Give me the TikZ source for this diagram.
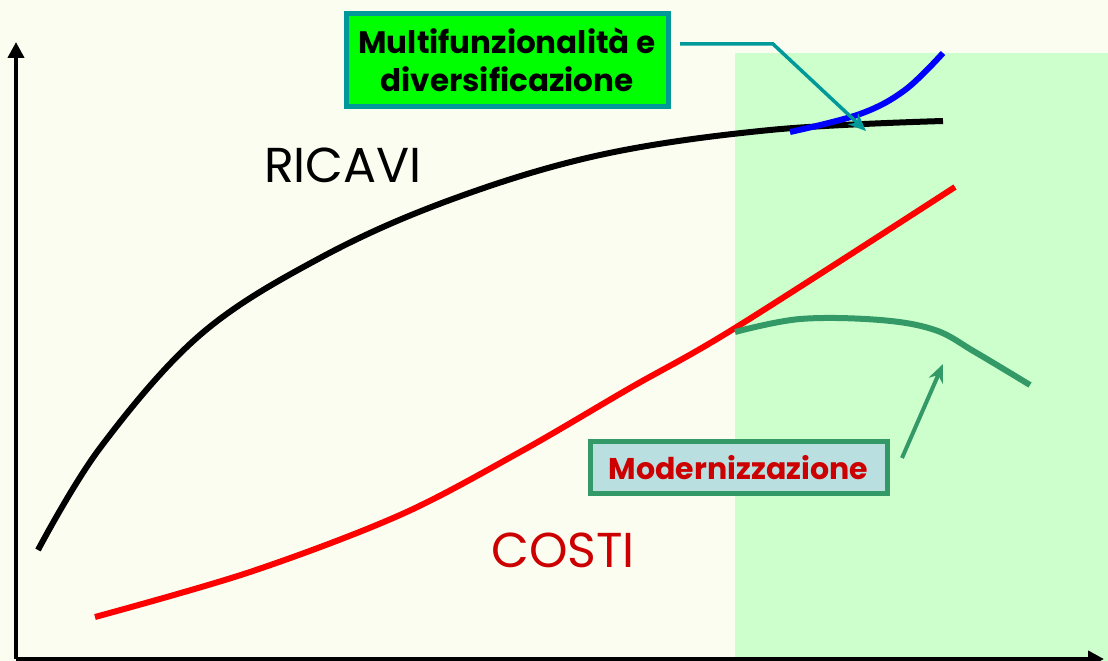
\documentclass[tikz,border=0pt]{standalone}
\usepackage{fontspec}
\setmainfont{Poppins}
\usetikzlibrary{arrows.meta}
\definecolor{bgivory}{RGB}{250,253,240}
\definecolor{bggreen}{RGB}{204,255,204}
\definecolor{tealc}{RGB}{0,153,153}
\definecolor{seagreen}{RGB}{51,153,102}
\definecolor{darkred}{RGB}{204,0,0}
\definecolor{boxblue}{RGB}{185,223,225}
\definecolor{lime}{RGB}{0,255,0}
\tikzset{
  curve/.style={line width=6pt, line cap=butt},
  axis/.style={line width=4.5pt, -{Triangle[length=16pt,width=16pt]}},
  labelbox/.style={line width=5pt, inner sep=0pt, align=center},
  bigtext/.style={font=\fontsize{49}{52}\selectfont, inner sep=0pt},
}
\begin{document}
\begin{tikzpicture}[x=1pt,y=-1pt]
\useasboundingbox (0,0) rectangle (1108,661);
\fill[bgivory] (0,0) rectangle (1108,661);
\fill[bggreen] (735,53) rectangle (1108,661);
% axes
\coordinate (O) at (16,659);
\coordinate (Ytop) at (16,42);
\coordinate (Xend) at (1104,659);
\draw[axis] (O) -- (Ytop);
\draw[axis] (O) -- (Xend);
% ricavi
\draw[curve, black] plot[smooth, tension=0.6] coordinates {(38,550) (100,448) (200,335) (320,258) (450,200) (600,155) (770,130) (943,121)};
% blue
\draw[curve, blue] plot[smooth, tension=0.6] coordinates {(790,132) (860,114) (905,90) (943,53)};
% costi
\draw[curve, red] plot[smooth, tension=0.55] coordinates {(95,617) (250,572) (400,515) (520,452) (630,388) (735,328) (955,187)};
% modernizzazione curve
\draw[curve, seagreen] plot[smooth, tension=0.6] coordinates {(735,332) (800,319) (880,320) (935,330) (975,352) (1030,385)};
% labels
\node[bigtext] (ricavi) at (343,165) {RICAVI};
\node[bigtext, text=darkred] (costi) at (563,550) {COSTI};
\node[labelbox, draw=tealc, fill=lime, minimum width=322pt, minimum height=92pt, font=\bfseries\fontsize{31}{38}\selectfont] (multi) at (507,60) {Multifunzionalità e\\diversificazione};
\node[labelbox, draw=seagreen, fill=boxblue, minimum width=297pt, minimum height=52pt, font=\bfseries\fontsize{30}{34}\selectfont, text=darkred] (moder) at (738.5,467.5) {Modernizzazione};
% connectors
\coordinate (multiEnd) at (680,44);
\coordinate (bend) at (773,44);
\coordinate (multiTip) at (866,131);
\draw[tealc, line width=3.5pt, -{Stealth[length=18pt,width=15pt]}] (multiEnd) -- (bend) -- (multiTip);
\coordinate (modStart) at (902,458);
\coordinate (modTip) at (943,364);
\draw[seagreen, line width=4pt, -{Stealth[length=18pt,width=15pt]}] (modStart) -- (modTip);
\end{tikzpicture}
\end{document}
